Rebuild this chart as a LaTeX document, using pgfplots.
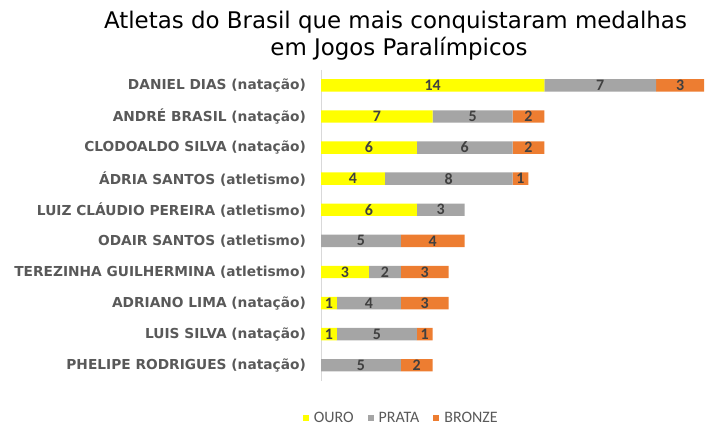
\documentclass[border=0pt]{standalone}
\usepackage{fontspec}
\setmainfont{DejaVu Sans}
\newfontfamily\carlito{Carlito}
\usepackage{pgfplots}
\usepackage{pgfplotstable}
\pgfplotsset{compat=1.18}
\definecolor{ouro}{HTML}{FFFF00}
\definecolor{prata}{HTML}{A5A5A5}
\definecolor{bronze}{HTML}{ED7D31}
\definecolor{lbl}{HTML}{595959}
\definecolor{num}{HTML}{404040}
\pgfplotstableread{
ouro prata bronze
14 7 3
7 5 2
6 6 2
4 8 1
6 3 0
0 5 4
3 2 3
1 4 3
1 5 1
0 5 2
}\medalhas
\begin{document}
\begin{tikzpicture}
\useasboundingbox (0,0) rectangle (724bp,430bp);
\node[font=\fontsize{23}{27}\selectfont, anchor=base, inner sep=0pt] at (395.5bp,401.7bp) {Atletas do Brasil que mais conquistaram medalhas};
\node[font=\fontsize{23}{27}\selectfont, anchor=base, inner sep=0pt] at (399bp,374bp) {em Jogos Paralímpicos};
\begin{axis}[
  at={(321bp,49.2bp)}, anchor=south west,
  scale only axis, width=383bp, height=311bp,
  xbar stacked, bar width=12.4bp,
  xmin=0, xmax=24, ymin=-0.5, ymax=9.5, y dir=reverse,
  axis x line=none, axis y line*=left,
  y axis line style={draw=black!15, line width=0.8pt},
  ytick={0,...,9},
  yticklabels={DANIEL DIAS (natação), ANDRÉ BRASIL (natação), CLODOALDO SILVA (natação), ÁDRIA SANTOS (atletismo), LUIZ CLÁUDIO PEREIRA (atletismo), ODAIR SANTOS (atletismo), TEREZINHA GUILHERMINA (atletismo), ADRIANO LIMA (natação), LUIS SILVA (natação), PHELIPE RODRIGUES (natação)},
  major tick length=0pt,
  yticklabel style={font=\fontsize{13.8}{16}\selectfont\bfseries, text=lbl, inner sep=0pt, xshift=-15bp},
  nodes near coords={\pgfmathparse{int(round(\segval))}\ifnum\pgfmathresult=0 \else\pgfmathresult\fi},
  nodes near coords align=center,
  every node near coord/.append style={anchor=center, inner sep=0pt, font=\carlito\fontsize{16}{18}\selectfont\bfseries, text=num},
  legend image code/.code={\fill[#1] (0bp,-3bp) rectangle (6bp,3bp);},
  legend columns=-1,
  legend style={draw=none, fill=none, at={(0.2095,-0.12)}, anchor=center, font=\carlito\fontsize{16}{18}\selectfont, text=lbl, nodes={font=\carlito\fontsize{16}{18}\selectfont, text=lbl, inner sep=2bp}, /tikz/every odd column/.append style={column sep=3bp}, /tikz/every even column/.append style={column sep=12bp}},
]
\addplot[fill=ouro, draw=none, visualization depends on={\thisrow{ouro}\as\segval}] table[x=ouro, y expr=\coordindex]{\medalhas};
\addplot[fill=prata, draw=none, visualization depends on={\thisrow{prata}\as\segval}] table[x=prata, y expr=\coordindex]{\medalhas};
\addplot[fill=bronze, draw=none, visualization depends on={\thisrow{bronze}\as\segval}] table[x=bronze, y expr=\coordindex]{\medalhas};
\legend{OURO, PRATA, BRONZE}
\end{axis}
\end{tikzpicture}
\end{document}
